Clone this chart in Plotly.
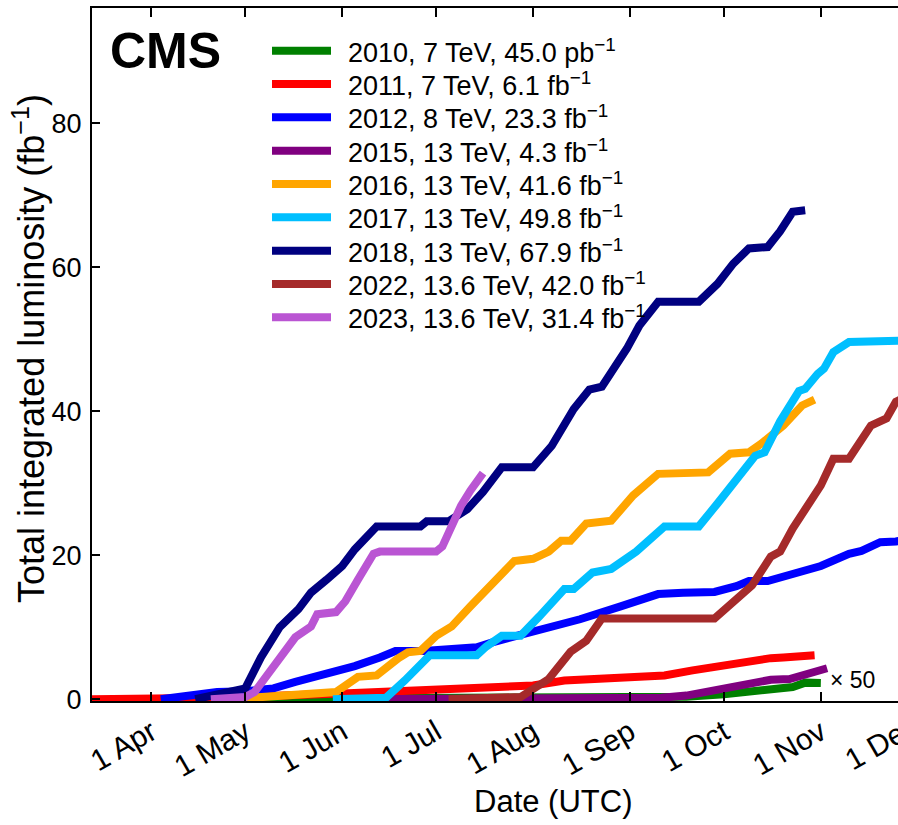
import plotly.graph_objects as go

YEAR = "2023-"

labels = [
    "2010, 7 TeV, 45.0 pb<sup>−1</sup>",
    "2011, 7 TeV, 6.1 fb<sup>−1</sup>",
    "2012, 8 TeV, 23.3 fb<sup>−1</sup>",
    "2015, 13 TeV, 4.3 fb<sup>−1</sup>",
    "2016, 13 TeV, 41.6 fb<sup>−1</sup>",
    "2017, 13 TeV, 49.8 fb<sup>−1</sup>",
    "2018, 13 TeV, 67.9 fb<sup>−1</sup>",
    "2022, 13.6 TeV, 42.0 fb<sup>−1</sup>",
    "2023, 13.6 TeV, 31.4 fb<sup>−1</sup>",
]
colors = ["#008000", "#FF0000", "#0000FF", "#800080", "#FFA500",
          "#00BFFF", "#000080", "#A52A2A", "#BA55D3"]

# 2010 (scaled x50)
d2010 = ["03-30", "08-23", "09-19", "10-01", "10-12", "10-23", "10-27", "11-01"]
v2010 = [0.0, 0.2, 0.35, 0.7, 1.1, 1.7, 2.3, 2.25]

d2011 = ["03-13", "04-03", "04-22", "06-01", "06-28", "07-20", "08-01", "08-11",
         "08-24", "09-05", "09-12", "09-21", "09-29", "10-07", "10-16", "10-20", "10-30"]
v2011 = [0.0, 0.05, 0.2, 0.8, 1.4, 1.8, 1.9, 2.6,
         2.9, 3.2, 3.3, 4.0, 4.6, 5.0, 5.7, 5.8, 6.1]

d2012 = ["04-04", "04-16", "04-22", "05-01", "05-10", "05-17", "05-25", "06-05",
         "06-13", "06-18", "06-27", "07-02", "07-14", "07-19", "07-28", "08-06",
         "08-16", "08-29", "09-10", "09-18", "09-28", "10-05", "10-09", "10-15",
         "10-25", "11-01", "11-10", "11-14", "11-20", "11-25", "12-06", "12-16"]
v2012 = [0.0, 0.7, 1.0, 1.1, 1.5, 2.4, 3.3, 4.6,
         5.8, 6.7, 6.7, 6.9, 7.2, 7.9, 8.9, 10.1,
         11.1, 12.9, 14.6, 14.8, 14.9, 15.7, 16.4, 16.4,
         17.8, 18.5, 20.2, 20.6, 21.8, 21.9, 22.8, 23.3]

d2015 = ["06-03", "09-11", "09-19", "09-29", "10-08", "10-16", "10-22", "10-29", "11-03"]
v2015 = [0.0, 0.2, 0.5, 1.3, 2.1, 2.7, 2.8, 3.6, 4.3]

d2016 = ["05-01", "05-03", "05-30", "06-02", "06-06", "06-12", "06-15", "06-19",
         "06-22", "06-26", "07-01", "07-06", "07-12", "07-15", "07-21", "07-26",
         "08-01", "08-06", "08-10", "08-13", "08-18", "08-26", "09-02", "09-10",
         "09-26", "09-29", "10-03", "10-09", "10-13", "10-20", "10-26", "10-30"]
v2016 = [0.0, 0.2, 1.0, 1.8, 3.1, 3.3, 4.4, 5.7,
         6.5, 6.7, 8.8, 10.1, 12.9, 14.3, 16.8, 19.2,
         19.5, 20.5, 22.0, 22.0, 24.4, 24.8, 28.3, 31.3,
         31.5, 32.7, 34.1, 34.3, 35.5, 38.0, 40.8, 41.6]

d2017 = ["05-29", "06-15", "06-21", "06-29", "07-14", "07-17", "07-22", "07-28",
         "08-03", "08-11", "08-14", "08-20", "08-26", "09-03", "09-12", "09-23",
         "09-29", "10-04", "10-11", "10-14", "10-19", "10-25", "10-27", "10-31",
         "11-02", "11-05", "11-10", "11-26"]
v2017 = [0.0, 0.2, 2.6, 6.1, 6.1, 7.3, 8.8, 8.8,
         11.5, 15.3, 15.3, 17.6, 18.1, 20.5, 24.0, 24.0,
         27.2, 30.0, 33.8, 34.3, 38.6, 42.8, 43.1, 45.2,
         45.9, 48.2, 49.6, 49.8]

d2018 = ["04-15", "04-27", "05-01", "05-06", "05-12", "05-18", "05-22", "05-27",
         "06-01", "06-05", "06-11", "06-12", "06-26", "06-28", "07-05", "07-11",
         "07-16", "07-22", "08-01", "08-07", "08-14", "08-19", "08-23", "08-31",
         "09-04", "09-10", "09-23", "09-26", "09-29", "10-04", "10-09", "10-15",
         "10-19", "10-23", "10-27"]
v2018 = [0.0, 1.0, 1.5, 5.8, 10.0, 12.5, 14.8, 16.6,
         18.5, 20.8, 23.6, 24.0, 24.0, 24.7, 24.7, 26.4,
         28.8, 32.2, 32.2, 35.2, 40.3, 43.0, 43.4, 48.7,
         51.9, 55.2, 55.2, 56.6, 57.7, 60.5, 62.6, 62.8,
         65.0, 67.7, 67.9]

d2022 = ["07-05", "07-15", "07-28", "08-06", "08-13", "08-18", "08-23", "09-28",
         "10-05", "10-10", "10-16", "10-19", "10-23", "10-29", "11-01", "11-05",
         "11-10", "11-17", "11-22", "11-25", "11-28"]
v2022 = [0.0, 0.2, 0.3, 2.8, 6.6, 8.1, 11.2, 11.2,
         14.0, 15.8, 19.8, 20.5, 23.7, 27.9, 29.7, 33.4,
         33.4, 38.0, 39.0, 41.3, 42.0]

d2023 = ["04-20", "05-01", "05-04", "05-10", "05-17", "05-22", "05-24", "05-30",
         "06-02", "06-06", "06-11", "06-13", "07-01", "07-03", "07-06", "07-09",
         "07-12", "07-14", "07-16"]
v2023 = [0.0, 0.3, 1.0, 4.6, 8.6, 10.1, 11.8, 12.1,
         13.6, 16.6, 20.2, 20.5, 20.5, 21.2, 24.1, 26.9,
         29.0, 30.2, 31.4]

series_dates = [d2010, d2011, d2012, d2015, d2016, d2017, d2018, d2022, d2023]
series_vals = [v2010, v2011, v2012, v2015, v2016, v2017, v2018, v2022, v2023]

FONT = "Liberation Sans"

fig = go.Figure()
for dates, vals, col, lab in zip(series_dates, series_vals, colors, labels):
    fig.add_trace(go.Scatter(
        x=[YEAR + d for d in dates], y=vals, mode="lines", name=lab,
        line=dict(color=col, width=8), showlegend=False))

# plot-area geometry (pixels) used for placing the hand-made legend
L, T, R, B = 92, 8, 898, 701
W, H = R - L, B - T

def px(x):
    return (x - L) / W

def py(y):
    return (B - y) / H

shapes = []
annotations = []
for i, (lab, col) in enumerate(zip(labels, colors)):
    yc = 50.7 + 33.33 * i
    shapes.append(dict(type="line", xref="paper", yref="paper",
                       x0=px(272), x1=px(331), y0=py(yc), y1=py(yc),
                       line=dict(color=col, width=8)))
    annotations.append(dict(text=lab, xref="paper", yref="paper",
                            x=px(346), y=py(yc), xanchor="left", yanchor="middle",
                            showarrow=False, font=dict(size=27, color="black", family=FONT)))

annotations += [
    dict(text="<b>CMS</b>", xref="paper", yref="paper", x=px(108), y=py(51),
         xanchor="left", yanchor="middle", showarrow=False,
         font=dict(size=50, color="black", family=FONT)),
    dict(text="× 50", xref="paper", yref="paper", x=px(828), y=py(680),
         xanchor="left", yanchor="middle", showarrow=False,
         font=dict(size=23, color="black", family=FONT)),
    dict(text="Total integrated luminosity (fb<sup>−1</sup>)", xref="paper", yref="paper",
         x=px(29), y=py(349), xanchor="center", yanchor="middle", textangle=-90,
         showarrow=False, font=dict(size=36, color="black", family=FONT)),
    dict(text="Date (UTC)", xref="paper", yref="paper", x=px(553), y=py(801),
         xanchor="center", yanchor="middle", showarrow=False,
         font=dict(size=31, color="black", family=FONT)),
    dict(text="1 Dec", xref="paper", yref="paper", x=px(881), y=py(742),
         xanchor="center", yanchor="middle", textangle=-30,
         showarrow=False, font=dict(size=30, color="black", family=FONT)),
]

fig.update_layout(
    width=898, height=825,
    margin=dict(l=L, r=0, t=T, b=825 - B),
    plot_bgcolor="white", paper_bgcolor="white",
    font=dict(family=FONT, size=27, color="black"),
    shapes=shapes, annotations=annotations,
    xaxis=dict(
        type="date", range=[YEAR + "03-13", YEAR + "11-25 16:00"],
        tick0=YEAR + "04-01", dtick="M1", tickformat="%-d %b",
        tickangle=-30, ticks="inside", ticklen=9, tickwidth=1.5, tickcolor="black",
        showline=True, linecolor="black", linewidth=2, mirror="ticks",
        showgrid=False, zeroline=False,
        tickfont=dict(size=30, family=FONT, color="black"),
    ),
    yaxis=dict(
        range=[-0.25, 96], tickvals=[0, 20, 40, 60, 80],
        ticks="inside", ticklen=8, tickwidth=1.5, tickcolor="black",
        showline=True, linecolor="black", linewidth=2, mirror=False,
        showgrid=False, zeroline=False, ticklabelstandoff=3,
        tickfont=dict(size=27, family=FONT, color="black"),
    ),
)

fig.write_html("out.html")
